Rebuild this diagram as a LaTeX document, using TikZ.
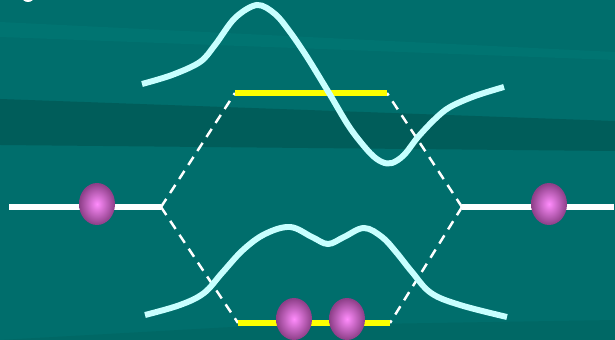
\documentclass[tikz,border=0pt]{standalone}
\usetikzlibrary{shapes.geometric}
\definecolor{bgteal}{RGB}{0,110,108}
\definecolor{bgdark}{RGB}{0,93,90}
\definecolor{bglight}{RGB}{0,116,113}
\definecolor{bgdeep}{RGB}{0,104,101}
\definecolor{wavecyan}{RGB}{200,255,255}
\definecolor{levelyellow}{RGB}{255,255,0}
\definecolor{epink}{RGB}{255,140,252}
\definecolor{epurple}{RGB}{140,62,135}
\newlength{\px}
\setlength{\px}{0.02cm}
\tikzset{
  atomlevel/.style={draw=white, line width=3.4pt},
  molevel/.style={draw=levelyellow, line width=3.2pt},
  corr/.style={draw=white, line width=1.4pt, dash pattern=on 5.5pt off 4pt},
  wave/.style={draw=wavecyan, line width=3.4pt, line cap=butt},
  electron/.style={ellipse, minimum width=36\px, minimum height=42\px,
    inner sep=0pt, shade, inner color=epink, outer color=epurple}
}
\begin{document}
\begin{tikzpicture}[x=0.02cm, y=-0.02cm]
  % background
  \fill[bgteal] (0,0) rectangle (615,340);
  \fill[bglight] (0,22) -- (615,52) -- (615,60) -- (0,37) -- cycle;
  \fill[bgdark] (0,99) -- (615,121) -- (615,151) -- (0,145) -- cycle;
  \fill[bgdeep] (0,340) -- (250,326) -- (615,320) -- (615,340) -- cycle;
  \useasboundingbox (0,0) rectangle (615,340);
  \begin{scope}
    \clip (0,0) rectangle (615,340);
    \fill[white] (28,-3) ellipse [x radius=6, y radius=5];
  \end{scope}

  % level end points
  \coordinate (La) at (9,207);
  \coordinate (Lb) at (161,207);
  \coordinate (Ra) at (462,207);
  \coordinate (Rb) at (614,207);
  \coordinate (Aa) at (235,93);
  \coordinate (Ab) at (387,93);
  \coordinate (Ba) at (238,323);
  \coordinate (Bb) at (390,323);

  % correlation lines
  \draw[corr] (Lb) -- (Aa);
  \draw[corr] (Lb) -- (Ba);
  \draw[corr] (Ra) -- (Ab);
  \draw[corr] (Ra) -- (Bb);

  % energy levels
  \draw[atomlevel] (La) -- (Lb);
  \draw[atomlevel] (Ra) -- (Rb);
  \draw[molevel] (Aa) -- (Ab);
  \draw[molevel] (Ba) -- (Bb);

  % wave functions
  \draw[wave] plot[smooth, tension=0.55] coordinates {
    (142,84) (172,75) (200,62) (215,45) (235,18) (257,5) (275,14)
    (290,32) (307,57) (329,93) (350,128) (370,153) (382,162) (392,163)
    (404,155) (418,137) (435,119) (450,107) (475,96) (504,87)};
  \draw[wave] plot[smooth, tension=0.6] coordinates {
    (145,315) (180,305) (204,293) (222,273) (243,250) (265,234)
    (290,227) (312,237) (328,244) (344,237) (364,228) (382,237)
    (396,252) (412,272) (431,293) (460,305) (507,317)};

  % electrons
  \node[electron] (e1) at (97,204) {};
  \node[electron] (e2) at (549,204) {};
  \node[electron] (e3) at (294,319) {};
  \node[electron] (e4) at (347,319) {};
\end{tikzpicture}
\end{document}
